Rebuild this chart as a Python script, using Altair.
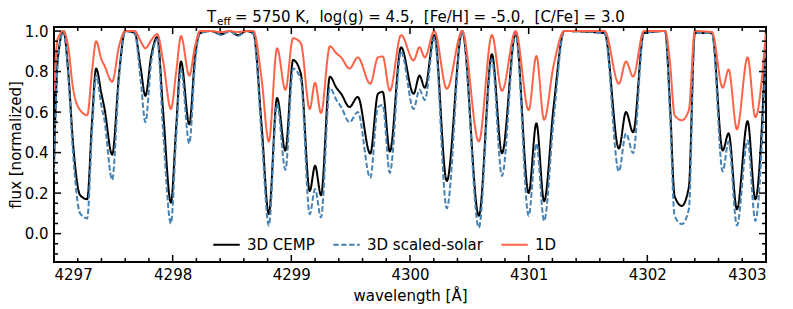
import altair as alt
import pandas as pd

# ---------------- data ----------------
wavelength = [
    4297.000, 4297.030, 4297.080, 4297.120, 4297.160, 4297.220, 4297.280, 4297.320,
    4297.355, 4297.400, 4297.425, 4297.490, 4297.550, 4297.600, 4297.680, 4297.730,
    4297.770, 4297.820, 4297.870, 4297.920, 4297.985, 4298.030, 4298.070, 4298.140,
    4298.190, 4298.230, 4298.320, 4298.410, 4298.480, 4298.550, 4298.620, 4298.680,
    4298.750, 4298.810, 4298.880, 4298.950, 4299.015, 4299.080, 4299.155, 4299.200,
    4299.250, 4299.325, 4299.380, 4299.420, 4299.490, 4299.560, 4299.665, 4299.730,
    4299.770, 4299.830, 4299.925, 4300.030, 4300.080, 4300.125, 4300.205, 4300.310,
    4300.440, 4300.580, 4300.690, 4300.775, 4300.890, 4301.000, 4301.065, 4301.130,
    4301.210, 4301.300, 4301.640, 4301.760, 4301.820, 4301.880, 4301.970, 4302.150,
    4302.190, 4302.230, 4302.290, 4302.350, 4302.400, 4302.545, 4302.635, 4302.685,
    4302.755, 4302.845, 4302.910, 4303.000,
]

flux_3d_cemp = [
    0.35, 0.85, 1.00, 0.80, 0.45, 0.19, 0.17, 0.55,
    0.815, 0.69, 0.62, 0.39, 0.80, 1.00, 0.99, 0.82,
    0.68, 0.88, 0.97, 0.60, 0.153, 0.53, 0.85, 0.54,
    0.88, 0.99, 1.00, 0.985, 1.00, 0.98, 1.00, 0.99,
    0.53, 0.096, 0.67, 0.41, 0.857, 0.79, 0.21, 0.335,
    0.19, 0.775, 0.72, 0.69, 0.625, 0.675, 0.395, 0.69,
    0.70, 0.405, 0.92, 0.69, 0.78, 0.72, 0.98, 0.26,
    1.00, 0.088, 0.885, 0.397, 0.99, 0.20, 0.545, 0.16,
    0.625, 1.00, 0.99, 0.42, 0.60, 0.50, 0.99, 1.00,
    0.65, 0.185, 0.137, 0.23, 0.99, 0.99, 0.41, 0.495,
    0.12, 0.555, 0.17, 0.97,
]

flux_3d_solar = [
    0.30, 0.83, 1.00, 0.78, 0.40, 0.10, 0.075, 0.50,
    0.78, 0.63, 0.56, 0.265, 0.78, 1.00, 0.99, 0.76,
    0.55, 0.85, 0.96, 0.50, 0.05, 0.48, 0.81, 0.445,
    0.85, 0.99, 1.00, 0.98, 1.00, 0.975, 1.00, 0.985,
    0.48, 0.04, 0.64, 0.315, 0.815, 0.76, 0.096, 0.22,
    0.08, 0.72, 0.66, 0.625, 0.55, 0.60, 0.275, 0.625,
    0.635, 0.30, 0.90, 0.615, 0.71, 0.66, 0.97, 0.125,
    1.00, 0.03, 0.86, 0.285, 0.99, 0.088, 0.445, 0.063,
    0.56, 1.00, 0.99, 0.307, 0.495, 0.397, 0.99, 1.00,
    0.60, 0.088, 0.047, 0.12, 0.99, 0.99, 0.307, 0.455,
    0.04, 0.46, 0.063, 0.93,
]

flux_1d = [
    0.70, 0.96, 1.00, 0.92, 0.72, 0.61, 0.585, 0.80,
    0.95, 0.86, 0.83, 0.75, 0.93, 1.00, 1.00, 0.95,
    0.915, 0.955, 0.985, 0.85, 0.615, 0.80, 0.975, 0.78,
    0.93, 1.00, 1.00, 0.995, 1.00, 0.995, 1.00, 1.00,
    0.76, 0.455, 0.915, 0.71, 0.965, 0.94, 0.615, 0.745,
    0.595, 0.925, 0.89, 0.87, 0.815, 0.87, 0.74, 0.87,
    0.875, 0.705, 0.98, 0.855, 0.92, 0.87, 1.00, 0.715,
    1.00, 0.455, 0.98, 0.705, 1.00, 0.61, 0.877, 0.5625,
    0.83, 1.00, 1.00, 0.74, 0.85, 0.775, 1.00, 1.00,
    0.85, 0.585, 0.56, 0.61, 1.00, 0.995, 0.72, 0.81,
    0.515, 0.87, 0.575, 1.00,
]

series_names = ["3D CEMP", "3D scaled-solar", "1D"]
series_colors = ["#000000", "#4682b4", "#ff6347"]
series_dashes = [[1, 0], [5.5, 2.4], [1, 0]]

x_major = [4297, 4298, 4299, 4300, 4301, 4302, 4303]
x_minor = [round(4297 + 0.2 * i, 1) for i in range(31) if i % 5 != 0]
y_major = [0.0, 0.2, 0.4, 0.6, 0.8, 1.0]
y_minor = [round(-0.10 + 0.05 * i, 2) for i in range(23) if (i - 2) % 4 != 0]

NB = "\u00a0"
title_main = f"= 5750 K,{NB} log(g) = 4.5,{NB} [Fe/H] = -5.0,{NB} [C/Fe] = 3.0"

# ---------------- chart ----------------
W, H = 712, 235
FONT = "DejaVu Sans"

xscale = alt.Scale(domain=[4297, 4303], nice=False, zero=False)
yscale = alt.Scale(domain=[-0.14, 1.02], nice=False, zero=False)
cscale = alt.Scale(domain=series_names, range=series_colors)
dscale = alt.Scale(domain=series_names, range=series_dashes)

legend = alt.Legend(
    title=None, orient="none", legendX=158, legendY=203, direction="horizontal",
)

xaxis = alt.Axis(
    values=x_major, format="d", title="wavelength [Å]", ticks=False, tickSize=0,
    domain=False, grid=False, labelPadding=5, titlePadding=6,
)
yaxis = alt.Axis(
    values=y_major, format=".1f", title="flux [normalized]", ticks=False, tickSize=0,
    domain=False, grid=False, labelPadding=6, titlePadding=1,
)

frames = [
    pd.DataFrame({"wl": wavelength, "flux": vals, "series": name})
    for name, vals in zip(series_names, [flux_3d_cemp, flux_3d_solar, flux_1d])
]

line_layers = []
for fr in frames:
    line_layers.append(
        alt.Chart(fr).mark_line(interpolate="monotone", strokeWidth=2, clip=True).encode(
            x=alt.X("wl:Q", scale=xscale, axis=xaxis),
            y=alt.Y("flux:Q", scale=yscale, axis=yaxis),
            color=alt.Color("series:N", scale=cscale, legend=legend),
            strokeDash=alt.StrokeDash("series:N", scale=dscale, legend=legend),
        )
    )

def xticks(vals, length, top):
    d = pd.DataFrame({"wl": vals})
    y1, y2 = (0, length) if top else (H, H - length)
    return alt.Chart(d).mark_rule(color="black", strokeWidth=1.5).encode(
        x=alt.X("wl:Q", scale=xscale, axis=xaxis),
        y=alt.value(y1), y2=alt.value(y2),
    )

def yticks(vals, length, right):
    d = pd.DataFrame({"flux": vals})
    x1, x2 = (W, W - length) if right else (0, length)
    return alt.Chart(d).mark_rule(color="black", strokeWidth=1.5).encode(
        y=alt.Y("flux:Q", scale=yscale, axis=yaxis),
        x=alt.value(x1), x2=alt.value(x2),
    )

tick_layers = [
    xticks(x_major, 7, False), xticks(x_minor, 4, False),
    xticks(x_major, 7, True), xticks(x_minor, 4, True),
    yticks(y_major, 7, False), yticks(y_minor, 4, False),
    yticks(y_major, 7, True), yticks(y_minor, 4, True),
]

one = pd.DataFrame({"k": [0]})
t_T = alt.Chart(one).mark_text(
    text="T", align="left", baseline="alphabetic", font=FONT, fontSize=15, color="black"
).encode(x=alt.value(153), y=alt.value(-5.5))
t_eff = alt.Chart(one).mark_text(
    text="eff", align="left", baseline="alphabetic", font=FONT, fontSize=10.5, color="black"
).encode(x=alt.value(163), y=alt.value(-2))
t_rest = alt.Chart(one).mark_text(
    text=title_main, align="left", baseline="alphabetic", font=FONT, fontSize=15, color="black"
).encode(x=alt.value(181), y=alt.value(-5.5))

chart = alt.layer(*line_layers, *tick_layers, t_T, t_eff, t_rest).properties(
    width=W, height=H,
    autosize=alt.AutoSizeParams(type="none"),
    padding={"left": 46, "top": 19, "right": 19, "bottom": 45},
).configure_view(
    stroke="black", strokeWidth=2
).configure_axis(
    labelFont=FONT, labelFontSize=15, labelColor="black",
    titleFont=FONT, titleFontSize=15, titleFontWeight="normal", titleColor="black",
).configure_legend(
    labelFont=FONT, labelFontSize=15, labelColor="black",
    symbolType="stroke", symbolSize=700, symbolStrokeWidth=2,
    labelOffset=6, columnPadding=14, padding=0,
)

chart.save("out.html", embed_options={"renderer": "svg", "actions": False})
